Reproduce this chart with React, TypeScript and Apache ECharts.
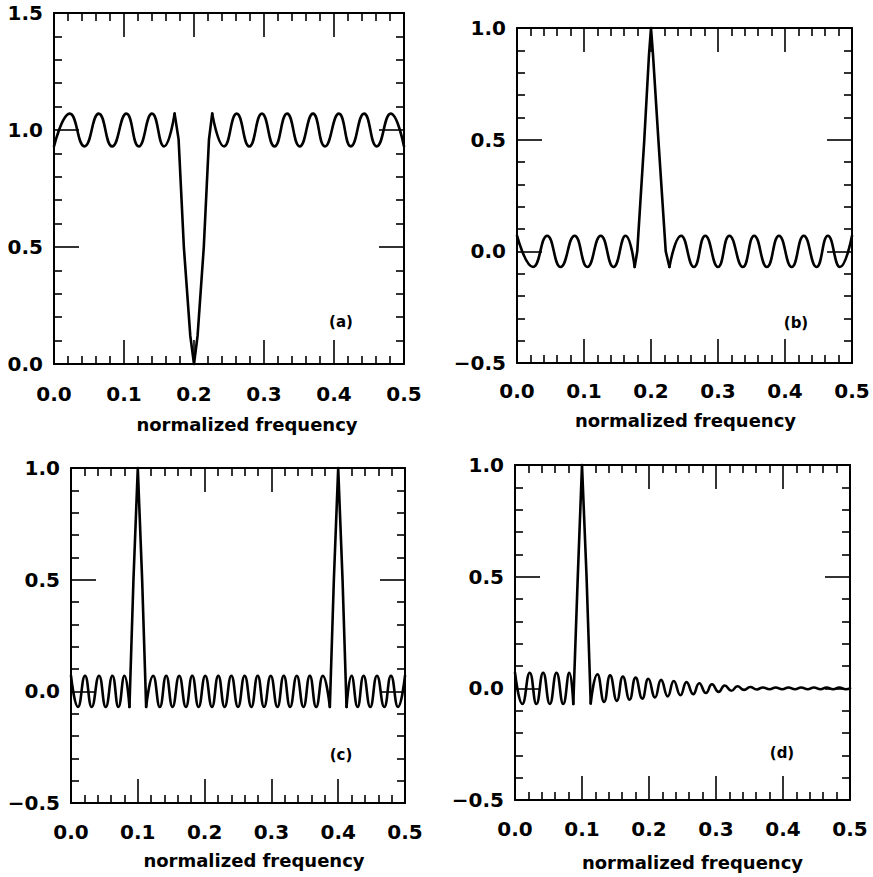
import React, { useEffect, useRef } from "react";
import * as echarts from "echarts";

// ---------- data ----------
const X_NAME = "normalized frequency";
const PANEL_TAGS = ["(a)", "(b)", "(c)", "(d)"];
const Y_MIN = [0, -0.5, -0.5, -0.5];
const Y_MAX = [1.5, 1.0, 1.0, 1.0];

// (a) notch at 0.2
const aLeft = [[0.000, 0.930], [0.0226, 1.070], [0.0435, 0.930], [0.0639, 1.070], [0.083, 0.930], [0.1034, 1.070], [0.121, 0.930], [0.140, 1.070], [0.157, 0.930], [0.1723, 1.070]];
const aDip = [[0.1723, 1.070], [0.178, 0.960], [0.1855, 0.500], [0.1947, 0.120], [0.200, 0.000], [0.2051, 0.120], [0.214, 0.500], [0.2214, 0.960], [0.226, 1.070]];
const aRight = [[0.226, 1.070], [0.243, 0.930], [0.261, 1.070], [0.279, 0.930], [0.297, 1.070], [0.315, 0.930], [0.333, 1.070], [0.351, 0.930], [0.370, 1.070], [0.387, 0.930], [0.407, 1.070], [0.424, 0.930], [0.443, 1.070], [0.461, 0.930], [0.481, 1.070], [0.500, 0.930]];

// (b) peak at 0.2
const bLeft = [[0.000, 0.070], [0.024, -0.070], [0.045, 0.070], [0.065, -0.070], [0.086, 0.070], [0.105, -0.070], [0.125, 0.070], [0.144, -0.070], [0.162, 0.070], [0.1756, -0.070]];
const bPeak = [[0.1756, -0.070], [0.1795, 0.000], [0.190, 0.500], [0.197, 0.880], [0.200, 1.000], [0.203, 0.880], [0.211, 0.500], [0.222, 0.000], [0.2275, -0.070]];
const bRight = [[0.2275, -0.070], [0.245, 0.070], [0.264, -0.070], [0.281, 0.070], [0.300, -0.070], [0.317, 0.070], [0.337, -0.070], [0.354, 0.070], [0.373, -0.070], [0.391, 0.070], [0.410, -0.070], [0.428, 0.070], [0.447, -0.070], [0.464, 0.070], [0.482, -0.070], [0.500, 0.070]];

// (c) peaks at 0.1 and 0.4
const cLeft = [[0.000, 0.070], [0.0105, -0.070], [0.021, 0.070], [0.031, -0.070], [0.042, 0.070], [0.052, -0.070], [0.062, 0.070], [0.071, -0.070], [0.080, 0.070], [0.0875, -0.070]];
const cPeak1 = [[0.0875, -0.070], [0.0935, 0.500], [0.100, 1.000], [0.1065, 0.500], [0.1125, -0.070]];
const cMid = [[0.1125, -0.070], [0.123, 0.070], [0.133, -0.070], [0.1425, 0.070], [0.152, -0.070], [0.162, 0.070], [0.172, -0.070], [0.1815, 0.070], [0.191, -0.070], [0.201, 0.070], [0.211, -0.070], [0.2205, 0.070], [0.230, -0.070], [0.240, 0.070], [0.250, -0.070], [0.260, 0.070], [0.270, -0.070], [0.2795, 0.070], [0.289, -0.070], [0.299, 0.070], [0.309, -0.070], [0.3185, 0.070], [0.328, -0.070], [0.338, 0.070], [0.348, -0.070], [0.3575, 0.070], [0.367, -0.070], [0.377, 0.070], [0.3875, -0.070]];
const cPeak2 = [[0.3875, -0.070], [0.3935, 0.500], [0.400, 1.000], [0.4065, 0.500], [0.4125, -0.070]];
const cRight = [[0.4125, -0.070], [0.420, 0.070], [0.429, -0.070], [0.438, 0.070], [0.448, -0.070], [0.458, 0.070], [0.469, -0.070], [0.479, 0.070], [0.4895, -0.070], [0.500, 0.070]];

// (d) peak at 0.1 with decaying ripples
const dLeft = [[0.000, 0.070], [0.011, -0.070], [0.022, 0.070], [0.032, -0.070], [0.042, 0.070], [0.052, -0.070], [0.062, 0.070], [0.072, -0.070], [0.081, 0.070], [0.087, -0.070]];
const dPeak = [[0.087, -0.070], [0.0937, 0.500], [0.100, 1.000], [0.1068, 0.500], [0.113, -0.068]];
const dRight = [[0.113, -0.068], [0.123, 0.063], [0.133, -0.061], [0.142, 0.058], [0.152, -0.056], [0.161, 0.053], [0.171, -0.051], [0.180, 0.048], [0.190, -0.046], [0.199, 0.043], [0.209, -0.041], [0.218, 0.038], [0.228, -0.036], [0.237, 0.033], [0.247, -0.031], [0.256, 0.028], [0.266, -0.026], [0.275, 0.023], [0.285, -0.021], [0.294, 0.018], [0.304, -0.016], [0.313, 0.013], [0.323, -0.011], [0.332, 0.009], [0.342, -0.007], [0.351, 0.006], [0.361, -0.005], [0.370, 0.004], [0.380, -0.004], [0.389, 0.004], [0.399, -0.004], [0.408, 0.004], [0.418, -0.004], [0.427, 0.004], [0.437, -0.004], [0.446, 0.004], [0.456, -0.004], [0.465, 0.004], [0.475, -0.004], [0.484, 0.004], [0.494, -0.004], [0.500, 0.000]];

// segments per panel: [data, smooth?]
const PANEL_SEGMENTS: [number[][], boolean][][] = [
  [[aLeft, true], [aDip, false], [aRight, true]],
  [[bLeft, true], [bPeak, false], [bRight, true]],
  [[cLeft, true], [cPeak1, false], [cMid, true], [cPeak2, false], [cRight, true]],
  [[dLeft, true], [dPeak, false], [dRight, true]],
];

// ---------- layout / style ----------
const FONT = '"DejaVu Sans", "Liberation Sans", sans-serif';
const GRIDS = [
  { left: 54, top: 13, width: 350, height: 351 },
  { left: 517, top: 28, width: 335, height: 335 },
  { left: 71, top: 468, width: 334, height: 335 },
  { left: 515, top: 465, width: 335, height: 335 },
];
const X_LABEL_MARGIN = [20, 18, 19, 19];
const NAME_GAP = [51, 48, 48, 53];
const NAME_SHIFT = [18, 1, 16, 10];
const TAG_POS = [[341, 322], [796, 323], [341, 755], [782, 753]];

const fmt = (v: number) => (v < -1e-9 ? "\u2212" + Math.abs(v).toFixed(1) : Math.abs(v).toFixed(1));

export default function App() {
  const ref = useRef<HTMLDivElement>(null);
  useEffect(() => {
    if (!ref.current) return;
    const chart = echarts.init(ref.current, undefined, { renderer: "svg" });
    const lineCol = "#000";
    const xAxes: any[] = [];
    const yAxes: any[] = [];
    const series: any[] = [];
    GRIDS.forEach((g, i) => {
      ["bottom", "top"].forEach((pos) => {
        const isMain = pos === "bottom";
        xAxes.push({
          type: "value",
          gridIndex: i,
          position: pos,
          min: 0,
          max: 0.5,
          interval: 0.1,
          axisLine: { show: true, onZero: false, lineStyle: { color: lineCol, width: 2 } },
          axisTick: { show: true, inside: true, length: 24, lineStyle: { color: lineCol, width: 1.6 } },
          minorTick: { show: true, splitNumber: 5, length: 8, lineStyle: { color: lineCol, width: 1.6 } },
          splitLine: { show: false },
          minorSplitLine: { show: false },
          axisLabel: isMain
            ? { show: true, margin: X_LABEL_MARGIN[i], color: "#000", fontFamily: FONT, fontSize: 20, fontWeight: "bold", formatter: fmt, showMinLabel: true, showMaxLabel: true }
            : { show: false },
          name: isMain ? X_NAME : "",
          nameLocation: "middle",
          nameGap: NAME_GAP[i],
          nameTextStyle: { color: "#000", fontFamily: FONT, fontSize: 18, fontWeight: "bold", padding: [0, 0, 0, NAME_SHIFT[i] * 2] },
        });
      });
      ["left", "right"].forEach((pos) => {
        const isMain = pos === "left";
        yAxes.push({
          type: "value",
          gridIndex: i,
          position: pos,
          min: Y_MIN[i],
          max: Y_MAX[i],
          interval: 0.5,
          axisLine: { show: true, onZero: false, lineStyle: { color: lineCol, width: 2 } },
          axisTick: { show: true, inside: true, length: 25, lineStyle: { color: lineCol, width: 1.6 } },
          minorTick: { show: true, splitNumber: 5, length: 8, lineStyle: { color: lineCol, width: 1.6 } },
          splitLine: { show: false },
          minorSplitLine: { show: false },
          axisLabel: isMain
            ? { show: true, margin: 11, color: "#000", fontFamily: FONT, fontSize: 20, fontWeight: "bold", formatter: fmt, showMinLabel: true, showMaxLabel: true }
            : { show: false },
        });
      });
      PANEL_SEGMENTS[i].forEach(([data, sm]) => {
        series.push({
          type: "line",
          xAxisIndex: i * 2,
          yAxisIndex: i * 2,
          data,
          smooth: sm ? 0.5 : false,
          showSymbol: false,
          symbol: "none",
          clip: false,
          silent: true,
          lineStyle: { color: "#000", width: 2.6, join: "round", cap: "round" },
        });
      });
    });
    chart.setOption({
      animation: false,
      backgroundColor: "#fff",
      grid: GRIDS.map((g) => ({ ...g, containLabel: false })),
      xAxis: xAxes,
      yAxis: yAxes,
      series,
      graphic: PANEL_TAGS.map((t, i) => ({
        type: "text",
        x: TAG_POS[i][0],
        y: TAG_POS[i][1],
        style: { text: t, fill: "#000", font: `bold 15px ${FONT}`, align: "center", verticalAlign: "middle" },
      })),
    });
    return () => chart.dispose();
  }, []);
  return <div ref={ref} style={{ position: "absolute", left: 0, top: 0, width: 873, height: 877, background: "#fff" }} />;
}
